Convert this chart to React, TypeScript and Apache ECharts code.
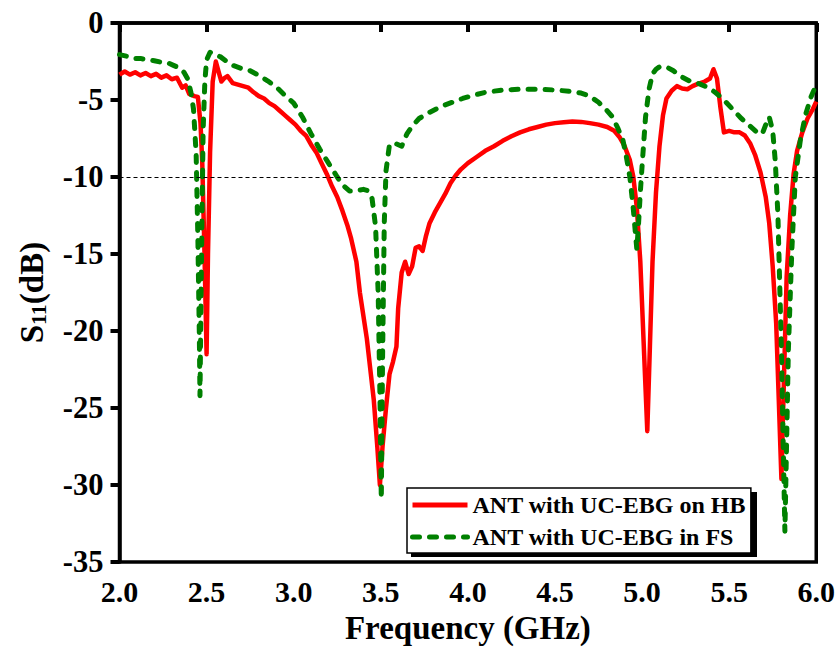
import React, { useEffect, useRef } from "react";
import * as echarts from "echarts";

const hbFreq = [
  2.0, 2.03, 2.06, 2.09, 2.12, 2.15, 2.18, 2.21, 2.24, 2.27, 2.3, 2.33, 2.36, 2.38, 2.4, 2.43, 2.45,
  2.465, 2.475, 2.488, 2.5, 2.508, 2.52, 2.535, 2.553, 2.57, 2.585, 2.6, 2.62, 2.65, 2.68, 2.71, 2.74,
  2.77, 2.8, 2.83, 2.86, 2.89, 2.92, 2.95, 2.98, 3.01, 3.04, 3.07, 3.1, 3.13, 3.16, 3.19, 3.22, 3.25,
  3.28, 3.31, 3.33, 3.36, 3.38, 3.4, 3.42, 3.44, 3.46, 3.48, 3.495, 3.51, 3.53, 3.55, 3.57, 3.59, 3.6,
  3.62, 3.64, 3.66, 3.68, 3.7, 3.72, 3.74, 3.76, 3.78, 3.81, 3.84, 3.87, 3.9, 3.93, 3.96, 4.0, 4.05,
  4.1, 4.15, 4.2, 4.25, 4.3, 4.35, 4.4, 4.45, 4.5, 4.55, 4.6, 4.65, 4.7, 4.75, 4.8, 4.84, 4.87, 4.9,
  4.93, 4.95, 4.97, 4.99, 5.01, 5.03, 5.045, 5.06, 5.08, 5.1, 5.12, 5.14, 5.17, 5.2, 5.23, 5.26, 5.29,
  5.32, 5.36, 5.39, 5.41, 5.43, 5.45, 5.47, 5.5, 5.53, 5.56, 5.59, 5.62, 5.65, 5.68, 5.71, 5.73, 5.75,
  5.77, 5.785, 5.8, 5.815, 5.83, 5.85, 5.87, 5.89, 5.92, 5.95, 5.98, 6.0,
];
const hbS11 = [
  -3.35, -3.15, -3.35, -3.2, -3.4, -3.25, -3.45, -3.3, -3.55, -3.4, -3.65, -3.55, -4.2, -4.05, -4.6, -4.75, -4.8,
  -6.5, -9, -15, -21.5, -15, -8.4, -3.8, -2.5, -3.2, -3.8, -3.6, -3.45, -3.9, -4.0, -4.1, -4.2,
  -4.5, -4.75, -4.9, -5.2, -5.4, -5.7, -6.0, -6.3, -6.6, -7.0, -7.3, -7.9, -8.4, -9.1, -9.8, -10.6, -11.3,
  -12.2, -13.2, -14.0, -15.5, -17.5, -19.0, -20.5, -22.5, -24.5, -27.5, -30.0, -27.5, -25.0, -22.8, -22.0, -21.0, -18.5,
  -16.2, -15.5, -16.3, -15.8, -14.6, -14.5, -14.8, -13.8, -13.0, -12.3, -11.7, -11.1, -10.4, -9.9, -9.5, -9.1, -8.7,
  -8.3, -8.0, -7.65, -7.35, -7.1, -6.9, -6.75, -6.6, -6.5, -6.45, -6.4, -6.42, -6.5, -6.6, -6.75, -7.0, -7.4, -8.0,
  -8.9, -10.0, -12.0, -15.5, -21.0, -26.5, -21.0, -15.5, -11.0, -8.0, -6.0, -4.9, -4.4, -4.1, -4.25, -4.3, -4.1,
  -3.95, -3.8, -3.6, -3.0, -3.6, -5.5, -7.1, -7.0, -7.1, -7.1, -7.3, -7.8, -8.6, -9.7, -11.3, -13.0, -15.8,
  -19.5, -24.5, -29.6, -23.0, -16.5, -12.5, -9.8, -8.3, -7.1, -6.2, -5.6, -5.1,
];

const fsFreq = [
  2.0, 2.04, 2.08, 2.12, 2.16, 2.2, 2.24, 2.28, 2.31, 2.34, 2.37, 2.39, 2.41, 2.425, 2.44, 2.45, 2.458,
  2.462, 2.47, 2.48, 2.49, 2.5, 2.52, 2.55, 2.58, 2.61, 2.65, 2.7, 2.75, 2.8, 2.85, 2.9, 2.95, 3.0,
  3.05, 3.1, 3.15, 3.2, 3.25, 3.28, 3.32, 3.36, 3.4, 3.43, 3.45, 3.47, 3.485, 3.495, 3.503, 3.51, 3.52,
  3.53, 3.55, 3.58, 3.62, 3.65, 3.68, 3.72, 3.78, 3.85, 3.91, 3.97, 4.03, 4.1, 4.2, 4.3, 4.4, 4.5, 4.6,
  4.65, 4.7, 4.75, 4.8, 4.83, 4.86, 4.89, 4.91, 4.93, 4.95, 4.97, 4.98, 4.99, 5.0, 5.02, 5.04, 5.06,
  5.08, 5.1, 5.14, 5.18, 5.22, 5.27, 5.33, 5.38, 5.42, 5.47, 5.52, 5.57, 5.62, 5.66, 5.69, 5.71, 5.73,
  5.75, 5.765, 5.78, 5.8, 5.82, 5.84, 5.86, 5.88, 5.91, 5.94, 5.97, 6.0,
];
const fsS11 = [
  -2.05, -2.15, -2.3, -2.3, -2.4, -2.45, -2.55, -2.6, -2.75, -2.9, -3.2, -3.6, -4.5, -5.6, -8.5, -14, -20,
  -24.2, -16, -7.0, -3.8, -2.4, -1.9, -2.05, -2.2, -2.45, -2.75, -2.95, -3.1, -3.4, -3.75, -4.15, -4.7, -5.2,
  -6.1, -7.2, -8.2, -9.1, -10.0, -10.5, -10.9, -10.9, -10.8, -10.9, -11.4, -13.2, -17.5, -24, -30.9, -22, -13,
  -9.6, -7.9, -7.8, -8.0, -7.2, -6.7, -6.2, -5.8, -5.4, -5.15, -4.9, -4.7, -4.5, -4.35, -4.3, -4.3, -4.35, -4.45,
  -4.55, -4.75, -5.15, -5.7, -6.1, -6.8, -7.6, -8.7, -10.0, -12.1, -14.7, -13.0, -11.0, -9.3, -6.1, -4.3, -3.3,
  -3.0, -2.85, -2.85, -3.1, -3.45, -3.75, -3.95, -4.2, -4.5, -5.0, -5.6, -6.2, -6.7, -7.1, -7.2, -6.6, -6.1,
  -7.0, -9.0, -12.5, -21.2, -33.0, -21.2, -14.7, -10.0, -7.5, -5.9, -4.8, -4.0,
];

const seriesNames = ["ANT with UC-EBG on HB", "ANT with UC-EBG in FS"];
const thresholdDb = -10;

const FONT = "'Liberation Serif', 'Times New Roman', serif";

export default function App() {
  const ref = useRef<HTMLDivElement>(null);
  useEffect(() => {
    if (!ref.current) return;
    const chart = echarts.init(ref.current, undefined, { renderer: "svg" });
    const hb = hbFreq.map((f, i) => [f, hbS11[i]]);
    const fs = fsFreq.map((f, i) => [f, fsS11[i]]);
    chart.setOption({
      animation: false,
      backgroundColor: "#ffffff",
      grid: {
        left: 119.5,
        right: 21,
        top: 23,
        bottom: 85,
        show: true,
        borderColor: "#000",
        borderWidth: 3.5,
        backgroundColor: "transparent",
      },
      xAxis: {
        type: "value",
        min: 2,
        max: 6,
        interval: 0.5,
        name: "Frequency (GHz)",
        nameLocation: "middle",
        nameGap: 48,
        nameTextStyle: { fontFamily: FONT, fontWeight: "bold", fontSize: 33, color: "#000" },
        axisLine: { show: true, lineStyle: { color: "#000", width: 3.5 } },
        axisTick: { show: true, inside: false, length: 9, lineStyle: { color: "#000", width: 4 } },
        axisLabel: {
          margin: 14,
          fontFamily: FONT,
          fontWeight: "bold",
          fontSize: 30,
          color: "#000",
          formatter: (v: number) => v.toFixed(1),
        },
        splitLine: { show: false },
      },
      yAxis: {
        type: "value",
        min: -35,
        max: 0,
        interval: 5,
        name: "{s|S}{sub|11}{s|(dB)}",
        nameLocation: "middle",
        nameGap: 70,
        nameTextStyle: {
          fontFamily: FONT,
          fontWeight: "bold",
          fontSize: 33,
          color: "#000",
          rich: {
            s: { fontFamily: FONT, fontWeight: "bold", fontSize: 33, color: "#000" },
            sub: { fontFamily: FONT, fontWeight: "bold", fontSize: 22, color: "#000", padding: [14, 0, 0, 0] },
          },
        },
        axisLine: { show: true, lineStyle: { color: "#000", width: 3.5 } },
        axisTick: { show: true, inside: false, length: 9, lineStyle: { color: "#000", width: 4 } },
        axisLabel: {
          margin: 16,
          fontFamily: FONT,
          fontWeight: "bold",
          fontSize: 30.5,
          color: "#000",
        },
        splitLine: { show: false },
      },
      legend: {
        left: 407,
        top: 488,
        orient: "vertical",
        data: seriesNames,
        backgroundColor: "#fff",
        borderColor: "#000",
        borderWidth: 1.5,
        padding: [5, 5, 4, 3],
        itemGap: 8,
        itemWidth: 55,
        itemHeight: 24,
        itemStyle: { opacity: 0 },
        lineStyle: { width: 5 },
        textStyle: { fontFamily: FONT, fontWeight: "bold", fontSize: 24, color: "#000" },
        z: 10,
      },
      graphic: [
        {
          type: "rect",
          shape: { x: 411, y: 492, width: 346, height: 65 },
          style: { fill: "#000" },
          z: 5,
          silent: true,
        },
      ],
      series: [
        {
          name: seriesNames[0],
          type: "line",
          data: hb,
          symbol: "none",
          smooth: false,
          lineStyle: { color: "#ff0000", width: 4.5, join: "round" },
          itemStyle: { color: "#ff0000" },
          z: 3,
          markLine: {
            silent: true,
            symbol: "none",
            label: { show: false },
            lineStyle: { color: "#000", width: 1.2, type: [4, 3] },
            data: [{ yAxis: thresholdDb }],
          },
        },
        {
          name: seriesNames[1],
          type: "line",
          data: fs,
          symbol: "none",
          smooth: false,
          lineStyle: { color: "#008000", width: 5, type: [7, 10], cap: "round", join: "round" },
          itemStyle: { color: "#008000" },
          z: 4,
        },
      ],
    });
    return () => chart.dispose();
  }, []);
  return (
    <div
      ref={ref}
      style={{ position: "absolute", left: 0, top: 0, width: 838, height: 649 }}
    />
  );
}
